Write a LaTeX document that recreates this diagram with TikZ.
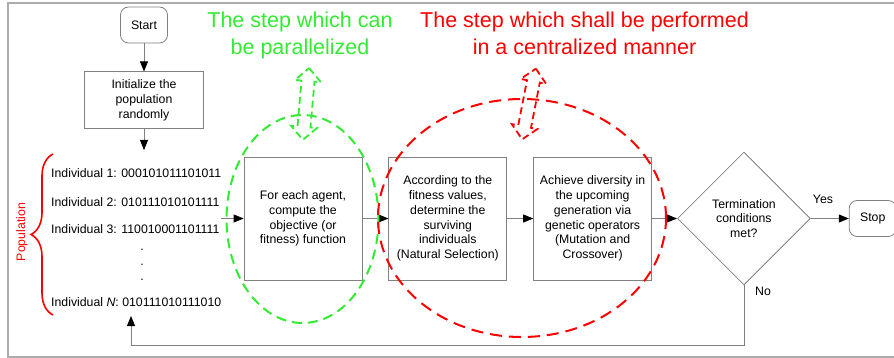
\documentclass[tikz,border=0pt]{standalone}
\usepackage{fontspec}
\setmainfont{Liberation Sans}
\usetikzlibrary{arrows.meta, decorations.pathreplacing, positioning, shapes.geometric}

\definecolor{pargreen}{RGB}{51,235,51}
\definecolor{linegray}{RGB}{128,128,128}

\begin{document}
\begin{tikzpicture}[x=1pt,y=-1pt,font=\fontsize{12.3}{14.7}\selectfont,
	boxstyle/.style={
	draw=linegray,line width=0.8pt,rectangle,minimum width=118pt,minimum height=123pt,align=center,inner sep=2pt
	},
	endstyle/.style={draw=linegray,line width=0.8pt,rectangle,rounded corners=8pt,minimum width=47pt,minimum height=36pt},
	flow/.style={draw=linegray,line width=0.8pt,-{Triangle[length=10pt,width=8pt,color=black]}},
	zone/.style={ellipse,draw,line width=2pt},
	updown/.pic={
	\draw[line width=1.8pt,dash pattern=on 7pt off 4pt] (0,-36) -- (13,-23) -- (6.5,-23) -- (6.5,23) -- (13,23)
		-- (0,36) -- (-13,23) -- (-6.5,23) -- (-6.5,-23) -- (-13,-23) -- cycle;
	}
]
	\useasboundingbox (0,0) rectangle (894,358);
	\draw[gray!65,line width=1.5pt] (894,3) -- (8,3) -- (8,357) -- (894,357);

	\node[endstyle] at (144,25) (start) {Start};
	\node[draw=linegray,line width=0.8pt,rectangle,minimum width=119pt,minimum height=57pt,align=center,
		below=28pt of start] (init) {Initialize the\\population\\randomly};

	% the population list
	\node[anchor=west,inner sep=0pt] at (51,173) (ind1) {Individual 1: 000101011101011};
	\node[anchor=west,inner sep=0pt] at (51,202) (ind2) {Individual 2: 010111010101111};
	\node[anchor=west,inner sep=0pt] at (51,229) (ind3) {Individual 3: 110010001101111};
	\node[align=center,inner sep=0pt] at (142,265) (dots) {.\\.\\.};
	\node[anchor=west,inner sep=0pt] at (51,302) (indN) {Individual \textit{N}: 010111010111010};
	\draw[red,line width=1.6pt,decorate,decoration={brace,amplitude=22pt}] (53,315) -- (53,154);
	\node[red,rotate=90] at (22,232) (poplabel) {Population};
	\coordinate (poptop) at (144,150);
	\coordinate (popout) at (221,218.5);
	\coordinate (popbot) at (131,316);

	\node[boxstyle] at (303,218.5) (fitness) {For each agent,\\compute the\\objective (or\\fitness) function};
	\node[boxstyle,right=26pt of fitness] (select) {According to the\\fitness values,\\determine the\\surviving\\individuals\\(Natural Selection)};
	\node[boxstyle,right=26pt of select] (diverse) {Achieve diversity in\\the upcoming\\generation via\\genetic operators\\(Mutation and\\Crossover)};
	\node[diamond,draw=linegray,line width=0.8pt,minimum width=133pt,minimum height=133pt,inner sep=0pt,
		align=center,right=25pt of diverse] (term) {Termination\\conditions\\met?};
	\node[endstyle,right=38pt of term] (stop) {Stop};
	\node at (823,199) (yes) {Yes};
	\node at (763,291) (no) {No};

	\draw[flow] (start) -- (init);
	\draw[flow] (init) -- (poptop);
	\draw[flow] (popout) -- (fitness);
	\draw[flow] (fitness) -- (select);
	\draw[flow] (select) -- (diverse);
	\draw[flow] (diverse) -- (term);
	\draw[flow] (term) -- (stop);
	\draw[flow] (term.south) -- ++(0,60) -| (popbot);

	% parallel part vs. centralized part
	\node[zone,pargreen,dash pattern=on 10pt off 6pt,minimum width=152pt,minimum height=208pt] at (302.5,219) (parzone) {};
	\node[zone,red,dash pattern=on 12pt off 7pt,minimum width=288pt,minimum height=238pt] at (522,218) (centzone) {};
	\pic[pargreen,rotate=-5] at (306,104) {updown};
	\pic[red,rotate=-11] at (529,104) {updown};
	\node[pargreen,font=\fontsize{21.5}{27}\selectfont,align=center] at (300,35.6) (partitle)
		{The step which can\\be parallelized};
	\node[red,font=\fontsize{21.5}{27}\selectfont,align=center] at (584.5,33.4) (centtitle)
		{The step which shall be performed\\in a centralized manner};
\end{tikzpicture}
\end{document}
